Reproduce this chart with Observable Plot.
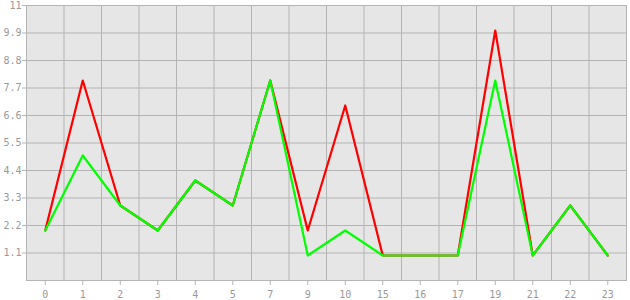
<!DOCTYPE html>
<html>
<head>
<meta charset="utf-8">
<script src="https://cdn.jsdelivr.net/npm/d3@7"></script>
<script src="https://cdn.jsdelivr.net/npm/@observablehq/plot@0.6"></script>
<style>
  html, body { margin: 0; padding: 0; background: #fff; }
</style>
</head>
<body>
<div id="chart"></div>
<script>
const categories = ["0","1","2","3","4","5","7","9","10","15","16","17","19","21","22","23"];
const redValues   = [2, 8, 3, 2, 4, 3, 8, 2, 7, 1, 1, 1, 10, 1, 3, 1];
const greenValues = [2, 5, 3, 2, 4, 3, 8, 1, 2, 1, 1, 1, 8, 1, 3, 1];
const yTicks = [1.1, 2.2, 3.3, 4.4, 5.5, 6.6, 7.7, 8.8, 9.9, 11];
const yTickLabels = ["1.1","2.2","3.3","4.4","5.5","6.6","7.7","8.8","9.9","11"];

const idx = d3.range(categories.length);
const redData = idx.map(i => ({i, v: redValues[i]}));
const greenData = idx.map(i => ({i, v: greenValues[i]}));
const bounds = d3.range(categories.length - 1).map(i => i + 0.5);
const gridColor = "#b4b4b4";

const chart = Plot.plot({
  width: 630,
  height: 300,
  marginLeft: 26,
  marginRight: 4,
  marginTop: 5,
  marginBottom: 20,
  style: {fontFamily: "DejaVu Sans Mono, monospace", fontSize: "10px", color: "#999", background: "#fff"},
  x: {type: "linear", domain: [-0.5, categories.length - 0.5]},
  y: {domain: [0, 11]},
  marks: [
    Plot.frame({fill: "#e6e6e6", stroke: null}),
    Plot.ruleY(yTicks, {stroke: gridColor, strokeWidth: 1, strokeOpacity: 1}),
    Plot.ruleX(bounds, {stroke: gridColor, strokeWidth: 1, strokeOpacity: 1}),
    Plot.frame({stroke: gridColor, strokeWidth: 1}),
    Plot.axisX({ticks: idx, tickFormat: i => categories[i], tickSize: 5, tickPadding: 5, stroke: gridColor, strokeOpacity: 1, fill: "#999", label: null}),
    Plot.axisY({ticks: yTicks, tickFormat: (d, k) => yTickLabels[k], tickSize: 4, tickPadding: 1, stroke: gridColor, strokeOpacity: 1, fill: "#999", label: null}),
    Plot.line(redData, {x: "i", y: "v", stroke: "#ff0000", strokeWidth: 2.2}),
    Plot.line(greenData, {x: "i", y: "v", stroke: "#00ff00", strokeWidth: 2.2})
  ]
});
document.getElementById("chart").appendChild(chart);
</script>
</body>
</html>
